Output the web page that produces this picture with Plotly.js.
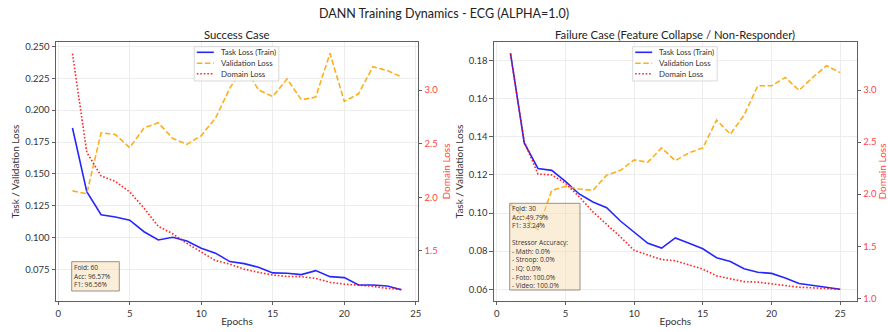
<!DOCTYPE html>
<html>
<head>
<meta charset="utf-8">
<script src="https://cdn.plot.ly/plotly-3.0.1.min.js"></script>
<style>
  html, body { margin: 0; padding: 0; background: #fff; }
  #chart { width: 888px; height: 332px; }
</style>
</head>
<body>
<div id="chart"></div>
<script>
// Epoch indices for each run
const epochsSuccess = [1,2,3,4,5,6,7,8,9,10,11,12,13,14,15,16,17,18,19,20,21,22,23,24];
const epochsFailure = [1,2,3,4,5,6,7,8,9,10,11,12,13,14,15,16,17,18,19,20,21,22,23,24,25];

// Success case (fold 60)
const successTaskLoss = [0.1860,0.1360,0.1180,0.1163,0.1137,0.1047,0.0982,0.1003,0.0974,0.0918,0.0879,0.0813,
                         0.0797,0.0768,0.0724,0.0721,0.0711,0.0742,0.0695,0.0687,0.0629,0.0629,0.0621,0.0592];
const successValLoss  = [0.1367,0.1345,0.1822,0.1808,0.1706,0.1860,0.1901,0.1779,0.1732,0.1800,0.1938,0.2172,
                         0.2349,0.2159,0.2107,0.2245,0.2081,0.2102,0.2445,0.2068,0.2128,0.2341,0.2310,0.2260];
const successDomainLoss = [3.340,2.420,2.200,2.148,2.050,1.900,1.730,1.660,1.570,1.490,1.410,1.377,
                           1.330,1.300,1.275,1.262,1.260,1.244,1.207,1.190,1.180,1.170,1.150,1.140];

// Failure case (fold 30)
const failureTaskLoss = [0.1839,0.1368,0.1234,0.1224,0.1166,0.1100,0.1058,0.1028,0.0958,0.0898,0.0841,0.0816,
                         0.0869,0.0841,0.0812,0.0765,0.0745,0.0707,0.0689,0.0683,0.0659,0.0630,0.0619,0.0609,0.0600];
const failureValLoss  = [0.1045,0.0980,0.0913,0.1119,0.1140,0.1126,0.1119,0.1199,0.1224,0.1279,0.1267,0.1342,
                         0.1275,0.1316,0.1342,0.1488,0.1414,0.1514,0.1668,0.1668,0.1712,0.1644,0.1712,0.1774,0.1737];
const failureDomainLoss = [3.344,2.506,2.193,2.185,2.105,1.975,1.830,1.710,1.590,1.460,1.415,1.372,
                           1.360,1.320,1.280,1.215,1.185,1.160,1.155,1.140,1.125,1.106,1.100,1.095,1.086];

// Texts
const seriesNames = ['Task Loss (Train)', 'Validation Loss', 'Domain Loss'];
const mainTitle = 'DANN Training Dynamics - ECG (ALPHA=1.0)';
const panelTitles = ['Success Case', 'Failure Case (Feature Collapse / Non-Responder)'];
const successInfo = ['Fold: 60', 'Acc: 96.57%', 'F1: 96.56%'];
const failureInfo = ['Fold: 30', 'Acc: 49.79%', 'F1: 33.24%', '', 'Stressor Accuracy:',
                     '- Math: 0.0%', '- Stroop: 0.0%', '- IQ: 0.0%', '- Foto: 100.0%', '- Video: 100.0%'];

const W = 888, H = 332;
const FONT = 'Lato, "Open Sans", sans-serif';
const BOX_FONT = '"Open Sans", Lato, sans-serif';
const TEXT = '#333333';
const RED_TXT = '#ff4545';
const SPINE = '#5f5f5f';
const GRID = '#e9e9e9';

const blueLine   = {color: 'rgba(0,0,255,0.85)', width: 1.6};
const orangeLine = {color: 'rgba(255,165,0,0.9)', width: 1.6, dash: '5.5px,2.6px'};
const redLine    = {color: 'rgba(255,0,0,0.85)', width: 1.6, dash: '1.6px,1.9px'};
const seriesLines = [blueLine, orangeLine, redLine];

// pixel -> paper helpers for the decorations
const px = v => v / W;
const py = v => (H - v) / H;

const traces = [
  {x: epochsSuccess, y: successTaskLoss, name: seriesNames[0], line: blueLine, xaxis: 'x', yaxis: 'y'},
  {x: epochsSuccess, y: successValLoss, name: seriesNames[1], line: orangeLine, xaxis: 'x', yaxis: 'y'},
  {x: epochsSuccess, y: successDomainLoss, name: seriesNames[2], line: redLine, xaxis: 'x', yaxis: 'y2'},
  {x: epochsFailure, y: failureTaskLoss, name: seriesNames[0], line: blueLine, xaxis: 'x2', yaxis: 'y3'},
  {x: epochsFailure, y: failureValLoss, name: seriesNames[1], line: orangeLine, xaxis: 'x2', yaxis: 'y3'},
  {x: epochsFailure, y: failureDomainLoss, name: seriesNames[2], line: redLine, xaxis: 'x2', yaxis: 'y4'}
].map(t => Object.assign({type: 'scatter', mode: 'lines', showlegend: false}, t));

const yDom = [0.0934, 0.8735];

function xAxis(domain, range, anchor) {
  return {
    domain: domain, range: range, anchor: anchor,
    tickmode: 'linear', tick0: 0, dtick: 5,
    showline: true, linecolor: SPINE, linewidth: 1, mirror: true,
    ticks: 'outside', ticklen: 3.5, tickcolor: SPINE, tickwidth: 1,
    showgrid: true, gridcolor: GRID, gridwidth: 0.8, zeroline: false,
    tickfont: {family: FONT, size: 9.5, color: TEXT},
    title: {text: 'Epochs', font: {family: FONT, size: 10, color: TEXT}, standoff: 0},
    automargin: false
  };
}
function leftAxis(range, dtick, fmt, anchor) {
  return {
    domain: yDom, range: range, anchor: anchor,
    tickmode: 'linear', tick0: 0, dtick: dtick, tickformat: fmt,
    showline: true, linecolor: SPINE, linewidth: 1, mirror: true,
    ticks: 'outside', ticklen: 3.5, tickcolor: SPINE, tickwidth: 1,
    showgrid: true, gridcolor: GRID, gridwidth: 0.8, zeroline: false,
    tickfont: {family: FONT, size: 9.5, color: TEXT},
    title: {text: 'Task / Validation Loss', font: {family: FONT, size: 10, color: TEXT}, standoff: 3},
    automargin: false
  };
}
function rightAxis(range, overlay, anchor) {
  return {
    range: range, overlaying: overlay, side: 'right', anchor: anchor,
    tickmode: 'linear', tick0: 0, dtick: 0.5, tickformat: '.1f',
    showline: false, showgrid: false, zeroline: false,
    ticks: 'outside', ticklen: 3.5, tickcolor: SPINE, tickwidth: 1,
    tickfont: {family: FONT, size: 9.5, color: RED_TXT},
    title: {text: 'Domain Loss', font: {family: FONT, size: 10, color: RED_TXT}, standoff: 5},
    automargin: false
  };
}

const shapes = [];
const annotations = [
  {xref: 'paper', yref: 'paper', x: 0.2669, y: py(34), xanchor: 'center', yanchor: 'middle',
   text: panelTitles[0], showarrow: false, font: {family: FONT, size: 11.3, color: '#222'}},
  {xref: 'paper', yref: 'paper', x: 0.7605, y: py(34), xanchor: 'center', yanchor: 'middle',
   text: panelTitles[1], showarrow: false, font: {family: FONT, size: 11.3, color: '#222'}}
];

// Legend frame with one key per series, placed at the top centre of a panel
function addLegend(left) {
  const top = 46.7, bottom = 81, rowY = [52.3, 63.2, 73.8];
  shapes.push({type: 'rect', xref: 'paper', yref: 'paper', layer: 'above',
               x0: px(left), x1: px(left + 84.5), y0: py(bottom), y1: py(top),
               fillcolor: 'rgba(255,255,255,0.82)', line: {color: '#cfcfcf', width: 0.8}});
  seriesNames.forEach((name, i) => {
    shapes.push({type: 'line', xref: 'paper', yref: 'paper', layer: 'above',
                 x0: px(left + 2.5), x1: px(left + 19.5), y0: py(rowY[i]), y1: py(rowY[i]),
                 line: seriesLines[i]});
    annotations.push({xref: 'paper', yref: 'paper', x: px(left + 24.5), y: py(rowY[i]),
                      xanchor: 'left', yanchor: 'middle', showarrow: false, text: name,
                      font: {family: FONT, size: 7.9, color: TEXT}});
  });
}
addLegend(194.3);
addLegend(632.7);

// Info box with fold metrics: a tinted frame and one multi-line text block
function addInfo(lines, left, top, right, bottom) {
  shapes.push({type: 'rect', xref: 'paper', yref: 'paper', layer: 'above',
               x0: px(left), x1: px(right), y0: py(bottom), y1: py(top),
               fillcolor: 'rgba(245,222,179,0.5)', line: {color: '#9a9182', width: 1}});
  annotations.push({xref: 'paper', yref: 'paper', x: px(left + 2), y: py(top + 0.8),
                    xanchor: 'left', yanchor: 'top', showarrow: false, align: 'left',
                    borderpad: 0, borderwidth: 0,
                    text: lines.map(s => s === '' ? '&nbsp;' : s).join('<br>'),
                    font: {family: BOX_FONT, size: 6.6, color: '#333'}});
}
addInfo(successInfo, 71.7, 261.7, 119.3, 291);
addInfo(failureInfo, 509.7, 203.3, 580, 290);

const layout = {
  width: W, height: H,
  margin: {l: 0, r: 0, t: 0, b: 0},
  paper_bgcolor: '#ffffff', plot_bgcolor: '#ffffff',
  font: {family: FONT, color: TEXT},
  showlegend: false,
  title: {text: mainTitle, x: 0.5, xanchor: 'center', y: py(14), yanchor: 'middle',
          font: {family: FONT, size: 12.5, color: '#222'}},
  xaxis: xAxis([0.0631, 0.4707], [-0.15, 25.15], 'y'),
  yaxis: leftAxis([0.0504, 0.2534], 0.025, '.3f', 'x'),
  yaxis2: rightAxis([1.033, 3.449], 'y', 'x'),
  xaxis2: xAxis([0.5563, 0.9648], [-0.2, 26.2], 'y3'),
  yaxis3: leftAxis([0.0538, 0.1898], 0.02, '.2f', 'x2'),
  yaxis4: rightAxis([0.974, 3.461], 'y3', 'x2'),
  shapes: shapes,
  annotations: annotations
};

Plotly.newPlot('chart', traces, layout, {staticPlot: true, displayModeBar: false});
</script>
</body>
</html>
